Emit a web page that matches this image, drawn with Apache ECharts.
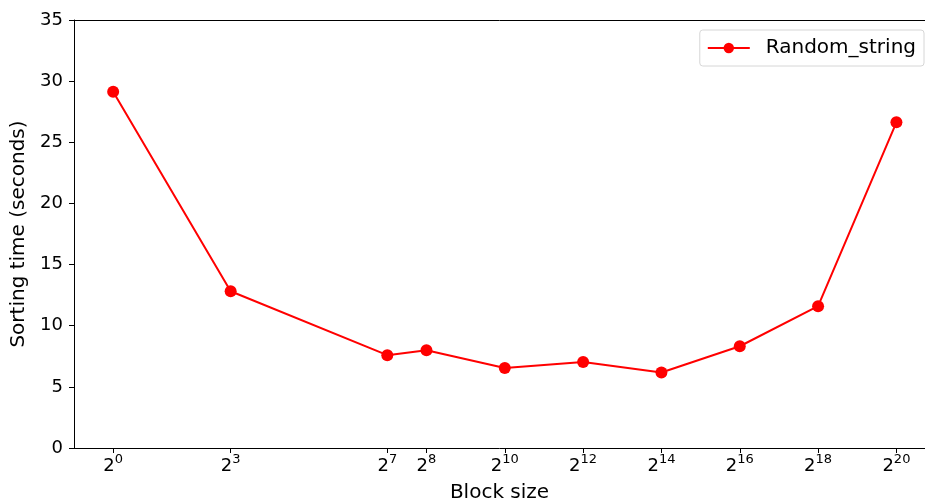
<!DOCTYPE html>
<html>
<head>
<meta charset="utf-8">
<script src="https://cdn.jsdelivr.net/npm/echarts@6/dist/echarts.min.js"></script>
<style>
  html, body { margin: 0; padding: 0; background: #fff; }
  #chart { width: 925px; height: 501px; }
</style>
</head>
<body>
<div id="chart"></div>
<script>
// block size exponents (x = 2^n) and sorting times
const exponents = [0, 3, 7, 8, 10, 12, 14, 16, 18, 20]
const sortTimes = [29.13, 12.82, 7.59, 7.99, 6.55, 7.04, 6.17, 8.32, 11.6, 26.63]

const chart = echarts.init(document.getElementById('chart'), null, { renderer: 'canvas' })
const font = 'DejaVu Sans'

chart.setOption({
  animation: false,
  grid: { left: 74, right: 0, top: 20, bottom: 53, outerBoundsMode: 'none' },
  legend: {
    right: 1, top: 30,
    padding: [8, 8, 8, 7],
    itemWidth: 42, itemHeight: 13,
    borderColor: '#d6d6d6', borderWidth: 1, borderRadius: 3,
    textStyle: { fontFamily: font, fontSize: 20, lineHeight: 20, color: '#000', padding: [0, 0, 0, 11] },
    data: ['Random_string']
  },
  xAxis: {
    type: 'value',
    min: -1, max: 20.73,
    name: 'Block size',
    nameLocation: 'middle',
    nameGap: 35,
    nameTextStyle: { fontFamily: font, fontSize: 20, color: '#000' },
    axisLine: { show: true, onZero: false, lineStyle: { color: '#000', width: 1 } },
    axisTick: { show: true, length: 5, customValues: exponents, lineStyle: { color: '#000' } },
    axisLabel: {
      customValues: exponents,
      margin: 5,
      formatter: v => '{b|2}{s|' + v + '}',
      rich: {
        b: { fontFamily: font, fontSize: 18, color: '#000', lineHeight: 22, verticalAlign: 'bottom' },
        s: { fontFamily: font, fontSize: 13, color: '#000', lineHeight: 14, verticalAlign: 'top' }
      }
    },
    splitLine: { show: false }
  },
  yAxis: {
    type: 'value',
    min: 0, max: 35, interval: 5,
    name: 'Sorting time (seconds)',
    nameLocation: 'middle',
    nameGap: 44,
    nameTextStyle: { fontFamily: font, fontSize: 20, color: '#000' },
    axisLine: { show: true, onZero: false, lineStyle: { color: '#000', width: 1 } },
    axisTick: { show: true, length: 5, lineStyle: { color: '#000' } },
    axisLabel: { fontFamily: font, fontSize: 18, color: '#000', margin: 11 },
    splitLine: { show: false }
  },
  graphic: [{
    type: 'line',
    shape: { x1: 74, y1: 20.5, x2: 925, y2: 20.5 },
    style: { stroke: '#000', lineWidth: 1 }
  }],
  series: [{
    name: 'Random_string',
    type: 'line',
    data: exponents.map((e, i) => [e, sortTimes[i]]),
    symbol: 'circle',
    symbolSize: 12,
    itemStyle: { color: '#ff0000' },
    lineStyle: { color: '#ff0000', width: 2 }
  }]
})
</script>
</body>
</html>
